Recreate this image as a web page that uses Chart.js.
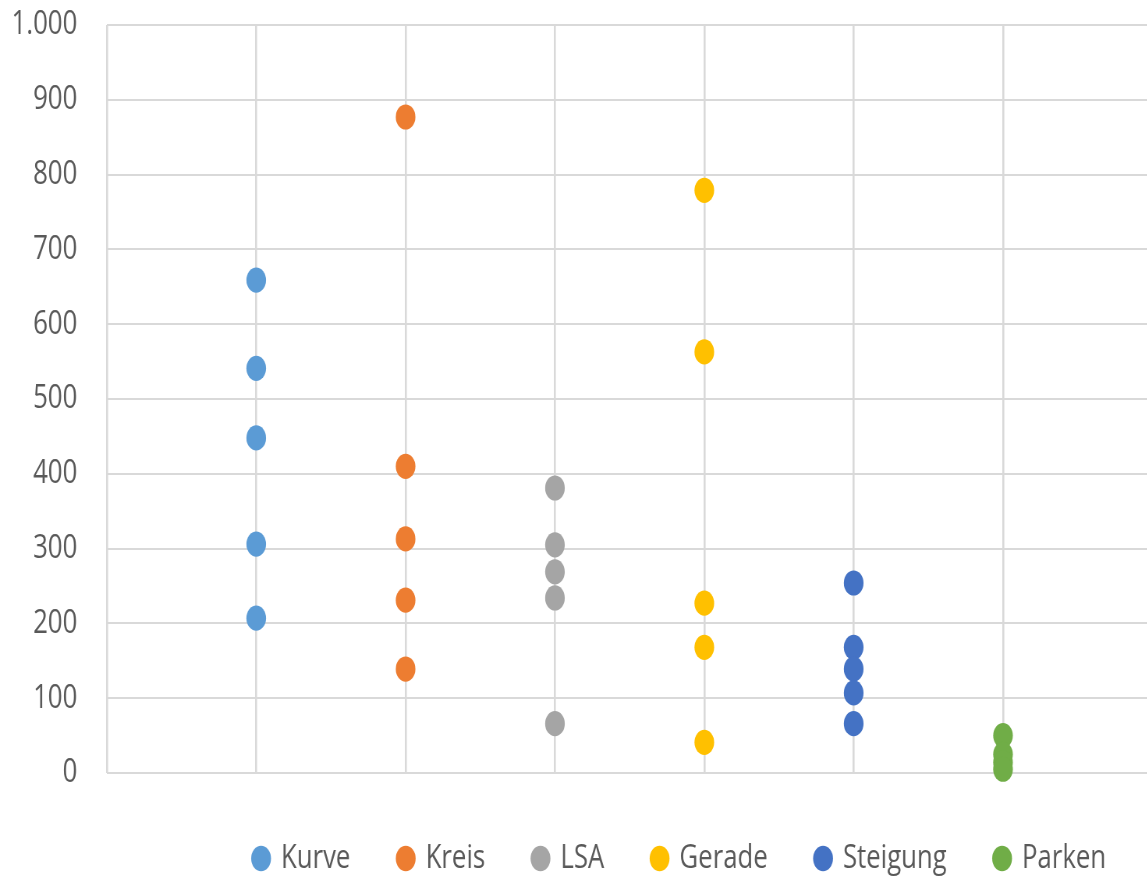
<!DOCTYPE html>
<html>
<head>
<meta charset="utf-8">
<script src="https://cdn.jsdelivr.net/npm/chart.js@4/dist/chart.umd.min.js"></script>
<style>
  html, body { margin: 0; padding: 0; background: #fff; overflow: hidden; }
  #frame { width: 1147px; height: 877px; overflow: hidden; position: relative; }
  /* the chart is laid out wide and squeezed horizontally, giving the tall dots and narrow type */
  #stretch { position: absolute; left: 0; top: 0; width: 1490px; height: 877px;
             transform: scaleX(0.78); transform-origin: 0 0; }
  #c { display: block; }
</style>
</head>
<body>
<div id="frame"><div id="stretch"><canvas id="c" width="1490" height="877"></canvas></div></div>
<script>
// categories along the x axis (one column of dots each)
const categories = ['Kurve', 'Kreis', 'LSA', 'Gerade', 'Steigung', 'Parken'];
const colors     = ['#5B9BD5', '#ED7D31', '#A5A5A5', '#FFC000', '#4472C4', '#70AD47'];

// values per category
const kurve    = [659, 541, 448, 306, 207];
const kreis    = [877, 410, 313, 231, 139];
const lsa      = [381, 305, 269, 234, 66];
const gerade   = [779, 563, 227, 168, 41];
const steigung = [254, 168, 139, 107, 66];
const parken   = [50, 25, 14, 5];

// y axis ticks
const yMin = 0, yMax = 1000, yStep = 100;

const seriesValues = [kurve, kreis, lsa, gerade, steigung, parken];

function formatDe(v) {
  return String(v).replace(/\B(?=(\d{3})+(?!\d))/g, '.');
}

const FONT = '"Open Sans", "Noto Sans", sans-serif';
const GRID = '#d9d9d9';
const TEXT = '#595959';

const datasets = categories.map((name, i) => ({
  label: name,
  data: seriesValues[i].map(v => ({ x: i + 1, y: v })),
  backgroundColor: colors[i],
  borderColor: colors[i],
  borderWidth: 0,
  pointStyle: 'circle',
  pointRadius: 12.6,
  pointHoverRadius: 12.6,
  showLine: false,
  clip: false
}));

// moves the legend row a little lower and to the left inside its box
const legendNudge = {
  id: 'legendNudge',
  afterLayout(chart) {
    const lg = chart.legend;
    if (lg) {
      lg.top += 7; lg.bottom += 7;
      lg.left -= 7; lg.right -= 7;
    }
  }
};

new Chart(document.getElementById('c'), {
  type: 'scatter',
  data: { datasets },
  plugins: [legendNudge],
  options: {
    responsive: false,
    animation: false,
    layout: { padding: { top: 25, left: 0, right: 3, bottom: 0 } },
    scales: {
      x: {
        type: 'linear',
        min: 0,
        max: 7,
        ticks: { display: false, stepSize: 1 },
        grid: { color: GRID, lineWidth: 2.6, drawTicks: false },
        border: { display: false },
        afterFit: s => { s.height = 0; }
      },
      y: {
        min: yMin,
        max: yMax,
        ticks: {
          stepSize: yStep,
          padding: 0,
          color: TEXT,
          font: { family: FONT, size: 33 },
          callback: v => formatDe(v)
        },
        grid: { color: GRID, lineWidth: 2, drawTicks: true, tickLength: 38, tickColor: 'rgba(0,0,0,0)' },
        border: { display: false },
        afterFit: s => { s.width = 137; }
      }
    },
    plugins: {
      tooltip: { enabled: false },
      legend: {
        position: 'bottom',
        align: 'end',
        maxHeight: 104,
        labels: {
          usePointStyle: true,
          boxWidth: 18,
          boxHeight: 18,
          padding: 62,
          color: TEXT,
          font: { family: FONT, size: 33 }
        }
      }
    }
  }
});
</script>
</body>
</html>
